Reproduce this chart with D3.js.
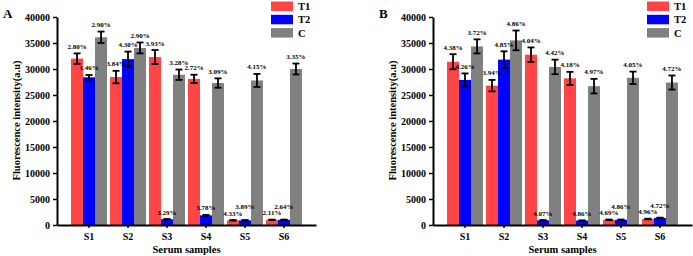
<!DOCTYPE html>
<html>
<head>
<meta charset="utf-8">
<script src="https://cdn.jsdelivr.net/npm/d3@7"></script>
<style>
  body { margin: 0; background: #fff; }
  svg { display: block; }
  text { font-family: 'Liberation Serif', 'Times New Roman', serif; font-weight: bold; fill: #000; }
  .axis path, .axis line { stroke: #000; }
  .axis path { stroke-width: 2; }
  .axis line { stroke-width: 1.5; }
</style>
</head>
<body>
<div id="chart"></div>
<script>
const samples = ['S1', 'S2', 'S3', 'S4', 'S5', 'S6'];
const groups = ['T1', 'T2', 'C'];
const yTicks = [0, 5000, 10000, 15000, 20000, 25000, 30000, 35000, 40000];

// panel A
const aT1 = [32000, 28450, 32300, 28100, 900, 1000];
const aT2 = [28400, 31900, 1100, 1850, 900, 1000];
const aC = [36100, 34050, 28900, 27300, 27800, 30000];
const aT1Err = [1000, 1200, 1350, 800, 50, 30];
const aT2Err = [450, 1450, 50, 80, 50, 40];
const aCErr = [1100, 1050, 1000, 900, 1250, 1050];
const aT1Pct = ['2.80%', '3.84%', '3.93%', '2.72%', '4.33%', '2.11%'];
const aT2Pct = ['1.46%', '4.30%', '3.29%', '3.78%', '3.89%', '2.64%'];
const aCPct = ['2.90%', '2.90%', '3.28%', '3.09%', '4.15%', '3.35%'];

// panel B
const bT1 = [31400, 26800, 32750, 28200, 1000, 1150];
const bT2 = [27900, 31800, 900, 850, 1000, 1350];
const bC = [34350, 35500, 30400, 26700, 28300, 27400];
const bT1Err = [1450, 1100, 1400, 1250, 50, 60];
const bT2Err = [1250, 1600, 40, 40, 50, 60];
const bCErr = [1350, 1900, 1400, 1400, 1200, 1350];
const bT1Pct = ['4.38%', '3.94%', '4.04%', '4.18%', '4.69%', '4.96%'];
const bT2Pct = ['4.26%', '4.85%', '4.07%', '4.86%', '4.86%', '4.72%'];
const bCPct = ['3.72%', '4.86%', '4.42%', '4.97%', '4.05%', '4.72%'];

const colors = { T1: '#ff4545', T2: '#0000ff', C: '#808080' };

const svg = d3.select('#chart')
  .append('svg')
    .attr('width', 693)
    .attr('height', 256);

function buildRows (t1, t2, c, t1e, t2e, ce, t1p, t2p, cp) {
  return samples.map((s, i) => ({
    sample: s,
    bars: [
      { key: 'T1', value: t1[i], err: t1e[i], pct: t1p[i] },
      { key: 'T2', value: t2[i], err: t2e[i], pct: t2p[i] },
      { key: 'C', value: c[i], err: ce[i], pct: cp[i] }
    ]
  }));
}

function drawPanel (letter, left, rows) {
  const x0 = left;
  const x1 = left + 259;
  const top = 17;
  const bottom = 225;

  const xScale = d3.scaleBand()
    .domain(samples)
    .range([x0, x1])
    .paddingInner(0.077)
    .paddingOuter(0.36);
  const xInner = d3.scaleBand()
    .domain(groups)
    .range([0, xScale.bandwidth()]);
  const yScale = d3.scaleLinear()
    .domain([0, 40000])
    .range([bottom, top]);

  const g = svg.append('g');

  // bars
  const sampleG = g.selectAll('.sample')
    .data(rows)
    .enter().append('g')
      .attr('transform', (d) => 'translate(' + xScale(d.sample) + ',0)');

  sampleG.selectAll('rect')
    .data((d) => d.bars)
    .enter().append('rect')
      .attr('x', (d) => xInner(d.key))
      .attr('width', xInner.bandwidth())
      .attr('y', (d) => yScale(d.value))
      .attr('height', (d) => bottom - yScale(d.value))
      .attr('fill', (d) => colors[d.key]);

  // error bars
  const errG = sampleG.selectAll('.err')
    .data((d) => d.bars)
    .enter().append('g')
      .attr('stroke', '#000')
      .attr('stroke-width', 1.8);
  const cx = (d) => xInner(d.key) + xInner.bandwidth() / 2;
  errG.append('line')
    .attr('x1', cx).attr('x2', cx)
    .attr('y1', (d) => yScale(d.value - d.err))
    .attr('y2', (d) => yScale(d.value + d.err));
  [-1, 1].forEach((s) => {
    errG.append('line')
      .attr('x1', (d) => cx(d) - 3.5).attr('x2', (d) => cx(d) + 3.5)
      .attr('y1', (d) => yScale(d.value + s * d.err))
      .attr('y2', (d) => yScale(d.value + s * d.err));
  });

  // percentage labels, nudged up when they would collide with the neighbour
  sampleG.each(function (d) {
    let prev = null;
    d.bars.forEach((b) => {
      let ly = yScale(b.value + b.err) - 4.5;
      if (prev !== null && Math.abs(ly - prev) < 6.5) ly = prev - 6.5;
      prev = ly;
      d3.select(this).append('text')
        .attr('x', cx(b))
        .attr('y', ly)
        .attr('text-anchor', 'middle')
        .style('font-size', '7px')
        .text(b.pct);
    });
  });

  // axes
  g.append('g')
    .attr('class', 'axis')
    .attr('transform', 'translate(' + x0 + ',0)')
    .call(d3.axisLeft(yScale)
      .tickValues(yTicks)
      .tickSize(4)
      .tickSizeOuter(0)
      .tickPadding(3)
      .tickFormat(d3.format('d')))
    .selectAll('text')
      .style('font-size', '10px');

  g.append('g')
    .attr('class', 'axis')
    .attr('transform', 'translate(0,' + bottom + ')')
    .call(d3.axisBottom(xScale)
      .tickSize(3)
      .tickSizeOuter(0)
      .tickPadding(5))
    .selectAll('text')
      .style('font-size', '10px');

  g.selectAll('.axis text').attr('font-family', null);
  g.selectAll('.axis').attr('font-family', null).attr('font-size', null);

  // titles
  g.append('text')
    .attr('transform', 'translate(' + (left - 37.5) + ',' + 120.5 + ') rotate(-90)')
    .attr('text-anchor', 'middle')
    .style('font-size', '10.5px')
    .text('Fluorescence intensity(a.u)');

  g.append('text')
    .attr('x', (x0 + x1) / 2)
    .attr('y', 253)
    .attr('text-anchor', 'middle')
    .style('font-size', '10.5px')
    .text('Serum samples');

  g.append('text')
    .attr('x', left - 54)
    .attr('y', 18)
    .style('font-size', '13px')
    .text(letter);

  // legend
  const legend = g.selectAll('.legend')
    .data(groups)
    .enter().append('g')
      .attr('transform', (d, i) => 'translate(' + (left + 214) + ',' + (1.5 + i * 13.3) + ')');
  legend.append('rect')
    .attr('width', 22)
    .attr('height', 9.5)
    .attr('fill', (d) => colors[d]);
  legend.append('text')
    .attr('x', 27)
    .attr('y', 8.5)
    .style('font-size', '10.5px')
    .text((d) => d);
}

drawPanel('A', 57, buildRows(aT1, aT2, aC, aT1Err, aT2Err, aCErr, aT1Pct, aT2Pct, aCPct));
drawPanel('B', 433, buildRows(bT1, bT2, bC, bT1Err, bT2Err, bCErr, bT1Pct, bT2Pct, bCPct));
</script>
</body>
</html>
